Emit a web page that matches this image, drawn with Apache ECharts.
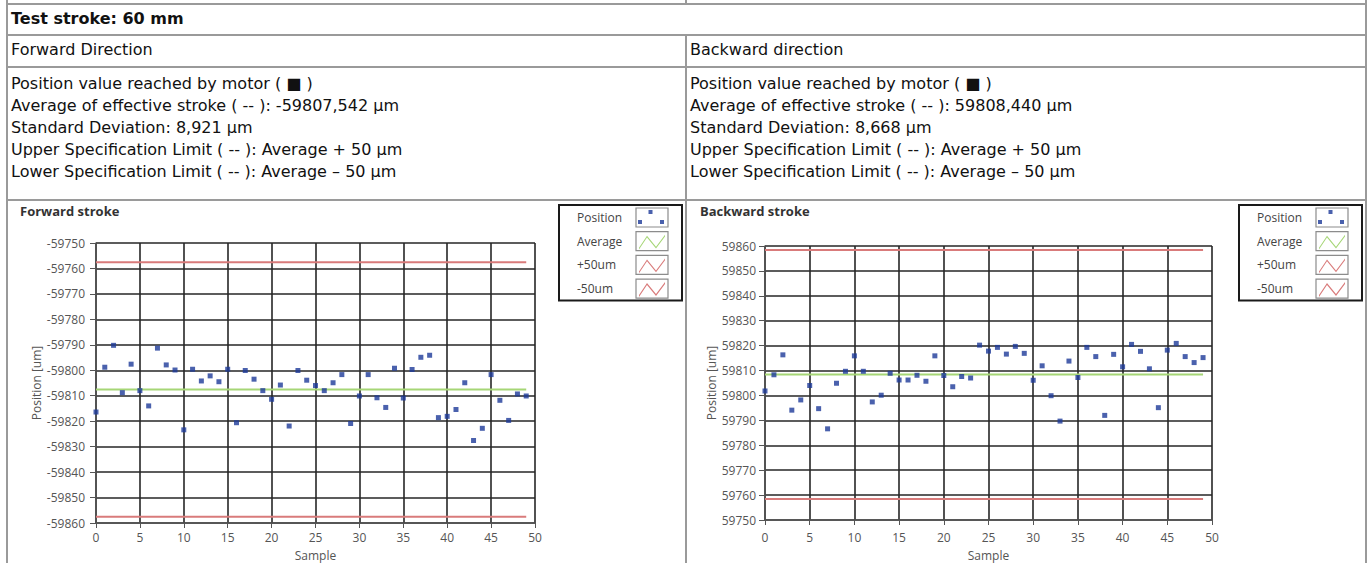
<!DOCTYPE html>
<html>
<head>
<meta charset="utf-8">
<script src="https://cdn.jsdelivr.net/npm/echarts@6/dist/echarts.min.js"></script>
<style>
html, body { margin: 0; padding: 0; background: #fff; }
body { width: 1368px; height: 563px; position: relative; overflow: hidden;
       font-family: "DejaVu Sans", sans-serif; font-size: 16px; color: #111; }
.hl, .vl { position: absolute; background: #9a9a9a; }
.hl { height: 2px; left: 6px; width: 1361px; }
.vl { width: 2px; }
.txt { position: absolute; white-space: nowrap; line-height: 22px; }
#chart { position: absolute; left: 0; top: 0; width: 1368px; height: 563px; }
</style>
</head>
<body>
<div class="hl" style="top:3px"></div>
<div class="hl" style="top:34px"></div>
<div class="hl" style="top:66px"></div>
<div class="hl" style="top:199px"></div>
<div class="vl" style="left:6px;top:0;height:563px"></div>
<div class="vl" style="left:1365px;top:0;height:563px"></div>
<div class="vl" style="left:685px;top:0;height:4px"></div>
<div class="vl" style="left:685px;top:34px;height:529px"></div>

<div class="txt" style="left:11px;top:8px;font-weight:bold">Test stroke: 60 mm</div>
<div class="txt" style="left:11px;top:39px">Forward Direction</div>
<div class="txt" style="left:690px;top:39px">Backward direction</div>
<div class="txt" style="left:11px;top:73px">
Position value reached by motor ( ■ )<br>
Average of effective stroke ( -- ): -59807,542 µm<br>
Standard Deviation: 8,921 µm<br>
Upper Specification Limit ( -- ): Average + 50 µm<br>
Lower Specification Limit ( -- ): Average – 50 µm
</div>
<div class="txt" style="left:690px;top:73px">
Position value reached by motor ( ■ )<br>
Average of effective stroke ( -- ): 59808,440 µm<br>
Standard Deviation: 8,668 µm<br>
Upper Specification Limit ( -- ): Average + 50 µm<br>
Lower Specification Limit ( -- ): Average – 50 µm
</div>

<div id="chart"></div>

<script>
const fwdPosition = [
    -59816.4, -59798.8, -59790.2, -59808.8, -59797.6, -59808.0, -59814.0, -59791.3, -59797.9, -59799.9,
    -59823.4, -59799.6, -59804.2, -59802.2, -59804.5, -59799.6, -59820.6, -59800.1, -59803.5, -59808.0,
    -59811.4, -59805.8, -59821.9, -59800.1, -59803.9, -59806.0, -59808.0, -59804.9, -59801.7, -59820.9,
    -59810.1, -59801.7, -59810.8, -59814.6, -59799.2, -59810.9, -59799.7, -59794.9, -59794.1, -59818.6,
    -59818.1, -59815.4, -59804.9, -59827.6, -59822.8, -59801.7, -59811.8, -59819.7, -59809.3, -59810.1
];
const bwdPosition = [
    59801.8, 59808.3, 59816.3, 59794.1, 59798.2, 59804.0, 59794.7, 59786.6, 59804.9, 59809.7,
    59815.9, 59809.7, 59797.4, 59800.1, 59808.9, 59806.2, 59806.2, 59808.1, 59805.7, 59815.9,
    59808.0, 59803.5, 59807.6, 59807.0, 59820.2, 59817.8, 59819.3, 59816.6, 59819.7, 59816.9,
    59806.1, 59811.9, 59799.9, 59789.7, 59813.8, 59807.2, 59819.3, 59815.6, 59792.0, 59816.5,
    59811.5, 59820.5, 59817.7, 59810.7, 59795.1, 59818.2, 59820.9, 59815.6, 59813.2, 59815.2
];
const fwdAverage = -59807.542;
const bwdAverage = 59808.440;
const specOffset = 50;

const fwdYRange = [-59860, -59750];
const bwdYRange = [59750, 59860];
const sampleRange = [0, 50];
const yStep = 10;
const xStep = 5;

const legendNames = ['Position', 'Average', '+50um', '-50um'];
const colors = ['#1d3a98', '#a6d676', '#d97b7b', '#d97b7b'];

const font = 'Open Sans';
const textGray = '#555';

const iconPts = 'path://M0 0L0 0M32 19L32 19M12.5 2h4v4h-4zM2 12h4v4h-4zM24 12h4v4h-4z';
const iconLine = 'path://M0 0L0 0M32 19L32 19M3 16L11 4L20 15L29 3L29 4.8L20 16.8L11 5.8L3 17.8Z';

const legendPad = [3, 14, 2.5, 18];
const legendTextW = 54;
const legendPitch = 23.7;

const panels = [
    {
        title: 'Forward stroke', titleLeft: 20,
        values: fwdPosition, average: fwdAverage, range: fwdYRange,
        grid: {left: 96, top: 243, width: 439, height: 280},
        yNameGap: 53, yLabelMargin: 11, xLabelMargin: 8, xNameGap: 26,
        legend: {left: 559, top: 205}
    },
    {
        title: 'Backward stroke', titleLeft: 700,
        values: bwdPosition, average: bwdAverage, range: bwdYRange,
        grid: {left: 765, top: 246, width: 447, height: 274},
        yNameGap: 48, yLabelMargin: 9, xLabelMargin: 11, xNameGap: 29,
        legend: {left: 1239, top: 205}
    }
];

const chart = echarts.init(document.getElementById('chart'), null, {renderer: 'svg'});

const gridLine = {show: true, lineStyle: {color: '#262626', width: 1.6}};
const axisLine = {show: true, lineStyle: {color: '#555', width: 1.5}};

const option = {
    animation: false,
    backgroundColor: 'transparent',
    title: panels.map(p => ({
        text: p.title, left: p.titleLeft, top: 204, padding: 0,
        textStyle: {fontFamily: font, fontSize: 13, fontWeight: 'bold', color: '#333'}
    })),
    grid: panels.map(p => p.grid),
    xAxis: panels.map((p, i) => ({
        type: 'value', gridIndex: i,
        min: sampleRange[0], max: sampleRange[1], interval: xStep,
        name: 'Sample', nameLocation: 'middle', nameGap: p.xNameGap,
        nameTextStyle: {fontFamily: font, fontSize: 12, color: textGray},
        axisLine: axisLine,
        axisTick: {show: true, length: 5, lineStyle: {color: '#555'}},
        axisLabel: {margin: p.xLabelMargin, fontFamily: font, fontSize: 12, color: textGray},
        splitLine: gridLine
    })),
    yAxis: panels.map((p, i) => ({
        type: 'value', gridIndex: i,
        min: p.range[0], max: p.range[1], interval: yStep,
        name: 'Position [um]', nameLocation: 'middle', nameGap: p.yNameGap, nameRotate: 90,
        nameTextStyle: {fontFamily: font, fontSize: 12, color: textGray},
        axisLine: axisLine,
        axisTick: {show: true, length: 6, lineStyle: {color: '#555'}},
        axisLabel: {margin: p.yLabelMargin, fontFamily: font, fontSize: 12, color: textGray,
                    formatter: v => String(v)},
        splitLine: gridLine
    })),
    legend: panels.map(p => ({
        orient: 'vertical', align: 'right',
        left: p.legend.left, top: p.legend.top,
        padding: legendPad,
        itemWidth: 32, itemHeight: 19, itemGap: legendPitch - 19,
        backgroundColor: '#fff', borderColor: '#1a1a1a', borderWidth: 2,
        selectedMode: false,
        formatter: name => `{t|${name}}`,
        textStyle: {rich: {t: {width: legendTextW, align: 'left', fontFamily: font, fontSize: 12, color: '#444'}}},
        data: legendNames.map((n, k) => ({
            name: n, icon: k === 0 ? iconPts : iconLine,
            itemStyle: {color: colors[k], borderWidth: 0}
        }))
    })),
    graphic: panels.flatMap(p => legendNames.map((n, k) => ({
        type: 'rect', z: 100, silent: true,
        shape: {
            x: p.legend.left + legendPad[3] + legendTextW + 5,
            y: p.legend.top + legendPad[0] + k * legendPitch,
            width: 32, height: 19
        },
        style: {fill: 'none', stroke: '#8c8c8c', lineWidth: 1.2}
    }))),
    series: panels.flatMap((p, i) => {
        const last = p.values.length - 1;
        const flat = (name, y, color) => ({
            name, type: 'line', xAxisIndex: i, yAxisIndex: i,
            symbol: 'none', silent: true, z: 3,
            lineStyle: {color, width: 2},
            itemStyle: {color},
            data: [[0, y], [last, y]]
        });
        return [
            {
                name: legendNames[0], type: 'scatter', xAxisIndex: i, yAxisIndex: i,
                symbol: 'rect', symbolSize: 5, z: 5,
                itemStyle: {color: colors[0]},
                data: p.values.map((v, k) => [k, v])
            },
            flat(legendNames[1], p.average, colors[1]),
            flat(legendNames[2], p.average + specOffset, colors[2]),
            flat(legendNames[3], p.average - specOffset, colors[3])
        ];
    })
};

chart.setOption(option);
</script>
</body>
</html>
